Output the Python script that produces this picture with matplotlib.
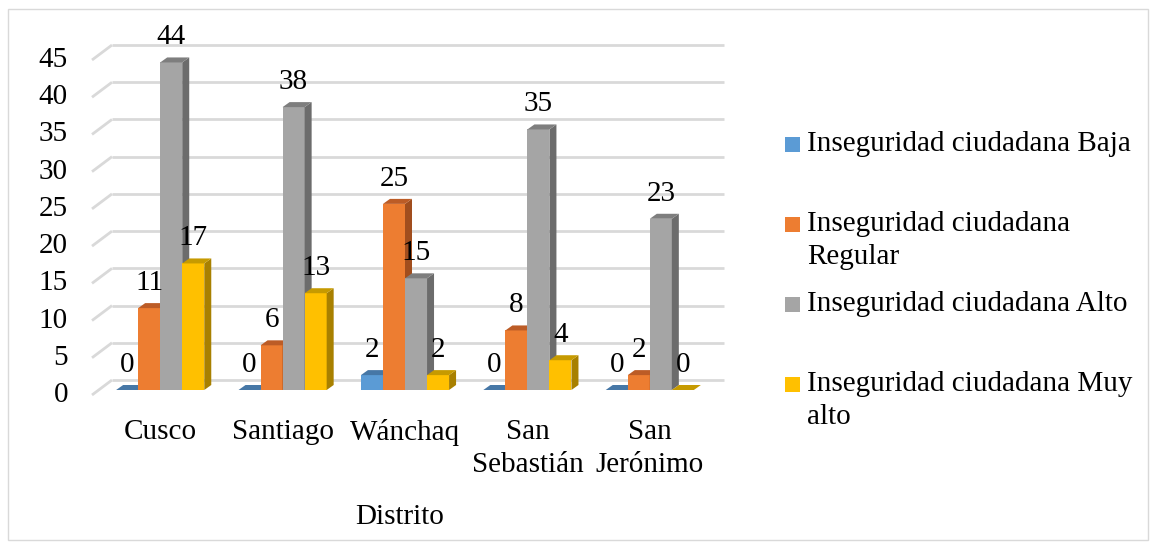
import matplotlib.pyplot as plt
from matplotlib.patches import Polygon, Rectangle

plt.rcParams['font.family'] = ['Liberation Serif', 'DejaVu Serif']

distritos = ['Cusco', 'Santiago', 'Wánchaq', 'San\nSebastián', 'San\nJerónimo']
series = ['Inseguridad ciudadana Baja', 'Inseguridad ciudadana\nRegular',
          'Inseguridad ciudadana Alto', 'Inseguridad ciudadana Muy\nalto']
baja = [0, 0, 2, 0, 0]
regular = [11, 6, 25, 8, 2]
alto = [44, 38, 15, 35, 23]
muy_alto = [17, 13, 2, 4, 0]
yticks = [0, 5, 10, 15, 20, 25, 30, 35, 40, 45]

fronts = ['#5B9BD5', '#ED7D31', '#A5A5A5', '#FFC000']
tops = ['#4677A6', '#BC5C26', '#7E7E7E', '#C69A00']
sides = ['#3E6A94', '#A14E1E', '#6C6C6C', '#A88000']

W, H = 1151, 544
fig = plt.figure(figsize=(W / 100, H / 100), dpi=100)
# front plane of the pseudo 3d box, in pixels
L, R, T, B = 92, 704, 60, 395
ax = fig.add_axes([L / W, (H - B) / H, (R - L) / W, (B - T) / H])
ax.set_xlim(-0.5, 4.5)
ax.set_ylim(0, 45)
ax.axis('off')

px_x = 5 / (R - L)      # data units per pixel
px_y = 45 / (B - T)

# depth offsets (pixels): back wall, bar front plane, bar depth
back = (20 * px_x, 15 * px_y)
bfront = (7 * px_x, 5 * px_y)
bdepth = (7 * px_x, 5 * px_y)

fs = 21
ls = 1.35
grid_c = '#D9D9D9'
for v in yticks:
    ax.plot([-0.5, -0.5 + back[0]], [v, v + back[1]], color=grid_c, lw=2,
            clip_on=False, zorder=1, solid_capstyle='butt')
    ax.plot([-0.5 + back[0], 4.5 + back[0]], [v + back[1], v + back[1]],
            color=grid_c, lw=2, clip_on=False, zorder=1, solid_capstyle='butt')
    ax.text(-0.5 - 24 * px_x, v, str(v), ha='right', va='center', fontsize=fs)

data = [baja, regular, alto, muy_alto]
w = 0.18
z = 2
for g in range(len(distritos)):
    for s, vals in enumerate(data):
        v = vals[g]
        x0 = g + (s - 1.5) * w - w / 2 + bfront[0]
        x1 = x0 + w
        b0 = bfront[1]
        top = v + bfront[1]
        dx, dy = bdepth
        ax.add_patch(Polygon([(x0, b0), (x1, b0), (x1, top), (x0, top)],
                             closed=True, fc=fronts[s], ec='none', zorder=z, clip_on=False))
        ax.add_patch(Polygon([(x1, b0), (x1 + dx, b0 + dy), (x1 + dx, top + dy), (x1, top)],
                             closed=True, fc=sides[s], ec='none', zorder=z, clip_on=False))
        ax.add_patch(Polygon([(x0, top), (x1, top), (x1 + dx, top + dy), (x0 + dx, top + dy)],
                             closed=True, fc=tops[s], ec='none', zorder=z, clip_on=False))
        z += 1
        ax.text((x0 + x1) / 2, top + 25 * px_y, str(v), ha='center', va='center',
                fontsize=fs, zorder=50)
    ax.text(g + bfront[0], -24 * px_y, distritos[g], ha='center', va='top',
            fontsize=fs, linespacing=ls)

fig.text(400 / W, 1 - 517 / H, 'Distrito', ha='center', va='center', fontsize=fs)

# legend
for i, lab in enumerate(series):
    yc = 145 + 80 * i
    fig.patches.append(Rectangle((785 / W, 1 - (yc + 7) / H), 15 / W, 15 / H,
                                 transform=fig.transFigure, fc=fronts[i], ec='none'))
    fig.text(807 / W, 1 - (yc - 14) / H, lab, ha='left', va='top', fontsize=fs,
             linespacing=ls)

fig.patches.append(Rectangle((8 / W, 4 / H), 1140 / W, 531 / H, transform=fig.transFigure,
                             fill=False, ec='#D9D9D9', lw=1))

fig.savefig('out.png', dpi=100)
